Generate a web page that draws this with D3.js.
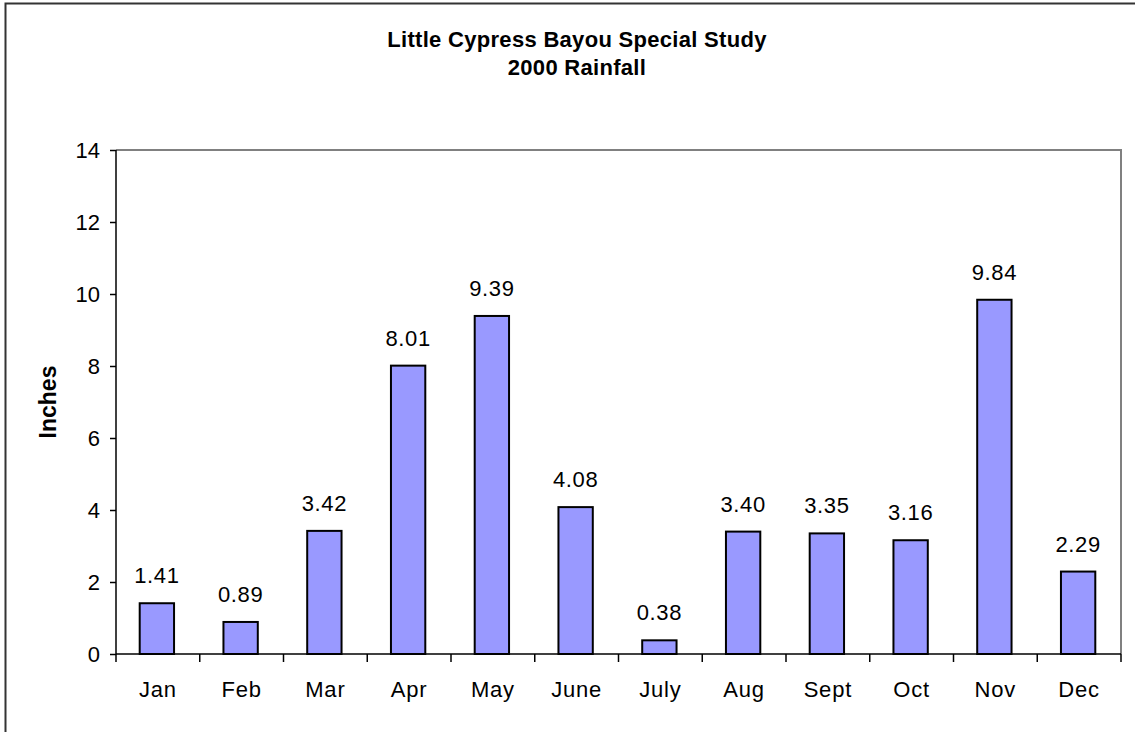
<!DOCTYPE html>
<html>
<head>
<meta charset="utf-8">
<script src="https://cdn.jsdelivr.net/npm/d3@7"></script>
<style>
  html, body { margin: 0; padding: 0; background: #fff; }
  svg { display: block; font-family: "Liberation Sans", Arial, sans-serif; }
</style>
</head>
<body>
<svg id="chart" width="1135" height="732"></svg>
<script>
// Monthly rainfall totals, inches
const months = ["Jan", "Feb", "Mar", "Apr", "May", "June", "July", "Aug", "Sept", "Oct", "Nov", "Dec"];
const rainfall = [1.41, 0.89, 3.42, 8.01, 9.39, 4.08, 0.38, 3.40, 3.35, 3.16, 9.84, 2.29];
const yTicks = [0, 2, 4, 6, 8, 10, 12, 14];
const titleLines = ["Little Cypress Bayou Special Study", "2000 Rainfall"];
const yLabel = "Inches";

const svg = d3.select("#chart");
const plot = { left: 116, top: 150, right: 1121, bottom: 654 };

// outer chart frame
svg.append("rect")
  .attr("x", 5.5).attr("y", 3.5)
  .attr("width", 1140).attr("height", 740)
  .attr("fill", "#fff").attr("stroke", "#333").attr("stroke-width", 2);

const x = d3.scaleBand().domain(months).range([plot.left - 1, plot.right - 1]).paddingInner(0.59).paddingOuter(0.295);
const band = d3.scaleBand().domain(months).range([plot.left, plot.right]);
const y = d3.scaleLinear().domain([0, 14]).range([plot.bottom, plot.top]);

// plot area border (top / right in grey)
svg.append("path")
  .attr("d", `M${plot.left},${plot.top}H${plot.right}V${plot.bottom}`)
  .attr("fill", "none").attr("stroke", "#808080").attr("stroke-width", 2);

// bars
svg.append("g").selectAll("rect").data(months).join("rect")
  .attr("x", (d) => x(d))
  .attr("y", (d, i) => y(rainfall[i]))
  .attr("width", x.bandwidth())
  .attr("height", (d, i) => y(0) - y(rainfall[i]))
  .attr("fill", "#9999FF").attr("stroke", "#000").attr("stroke-width", 2);

// value labels
svg.append("g").selectAll("text").data(months).join("text")
  .attr("x", (d) => x(d) + x.bandwidth() / 2)
  .attr("y", (d, i) => y(rainfall[i]) - 20)
  .attr("text-anchor", "middle")
  .attr("font-size", 22).attr("letter-spacing", 0.6)
  .text((d, i) => rainfall[i].toFixed(2));

// y axis
const yAxis = svg.append("g")
  .attr("transform", `translate(${plot.left},0)`)
  .call(d3.axisLeft(y).tickValues(yTicks).tickSize(6).tickPadding(10).tickFormat(d3.format("d")));
yAxis.selectAll("path, line").attr("stroke", "#000").attr("stroke-width", 1.5);
yAxis.select(".domain").attr("d", `M0,${plot.bottom}V${plot.top}`);
yAxis.selectAll("text").attr("font-size", 22).attr("fill", "#000")
  .attr("font-family", "Liberation Sans, Arial, sans-serif").attr("dy", "0.35em");

// x axis: ticks sit on category boundaries
const xAxis = svg.append("g").attr("transform", `translate(0,${plot.bottom})`);
xAxis.append("line")
  .attr("x1", plot.left).attr("x2", plot.right)
  .attr("stroke", "#000").attr("stroke-width", 1.5);
const boundaries = months.map((d) => band(d)).concat([plot.right]);
xAxis.selectAll("line.tick").data(boundaries).join("line")
  .attr("class", "tick")
  .attr("x1", (d) => d).attr("x2", (d) => d)
  .attr("y1", 0).attr("y2", 8)
  .attr("stroke", "#000").attr("stroke-width", 1.5);
xAxis.selectAll("text").data(months).join("text")
  .attr("x", (d) => band(d) + band.bandwidth() / 2)
  .attr("y", 43)
  .attr("text-anchor", "middle")
  .attr("font-size", 22).attr("letter-spacing", 0.8)
  .text((d) => d);

// y axis title
svg.append("text")
  .attr("transform", "translate(56,402) rotate(-90)")
  .attr("text-anchor", "middle")
  .attr("font-size", 23).attr("font-weight", "bold")
  .text(yLabel);

// chart title
svg.append("g").selectAll("text").data(titleLines).join("text")
  .attr("x", 577)
  .attr("y", (d, i) => 47 + i * 28)
  .attr("text-anchor", "middle")
  .attr("font-size", 22).attr("font-weight", "bold").attr("letter-spacing", 0.3)
  .text((d) => d);
</script>
</body>
</html>
